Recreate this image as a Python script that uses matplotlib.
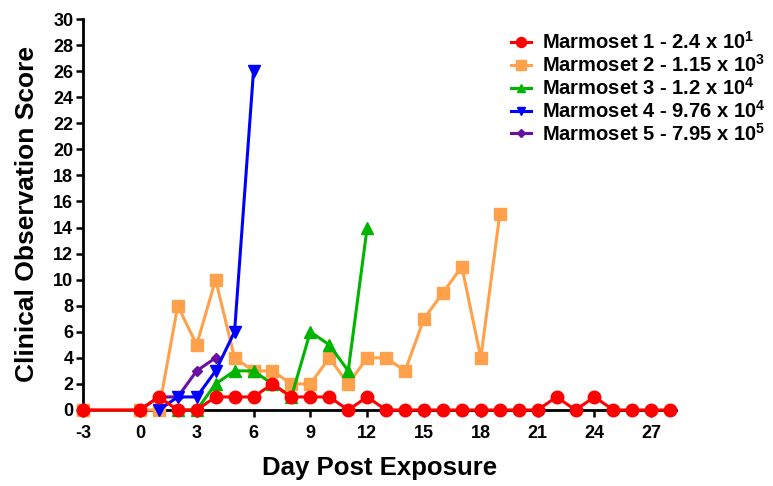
import matplotlib.pyplot as plt

plt.rcParams['font.family'] = ['Liberation Sans', 'DejaVu Sans']
plt.rcParams['font.weight'] = 'bold'
plt.rcParams['axes.unicode_minus'] = False
plt.rcParams['mathtext.fontset'] = 'custom'
plt.rcParams['mathtext.rm'] = 'Liberation Sans:bold'
plt.rcParams['mathtext.bf'] = 'Liberation Sans:bold'

# --- data ---
days_m1 = [-3, 0, 1, 2, 3, 4, 5, 6, 7, 8, 9, 10, 11, 12, 13, 14, 15, 16, 17, 18, 19, 20,
           21, 22, 23, 24, 25, 26, 27, 28]
score_m1 = [0, 0, 1, 0, 0, 1, 1, 1, 2, 1, 1, 1, 0, 1, 0, 0, 0, 0, 0, 0, 0, 0,
            0, 1, 0, 1, 0, 0, 0, 0]

days_m2 = [-3, 0, 1, 2, 3, 4, 5, 6, 7, 8, 9, 10, 11, 12, 13, 14, 15, 16, 17, 18, 19]
score_m2 = [0, 0, 0, 8, 5, 10, 4, 3, 3, 2, 2, 4, 2, 4, 4, 3, 7, 9, 11, 4, 15]

days_m3 = [2, 3, 4, 5, 6, 7, 8, 9, 10, 11, 12]
score_m3 = [0, 0, 2, 3, 3, 2, 1, 6, 5, 3, 14]

days_m4 = [1, 2, 3, 4, 5, 6]
score_m4 = [0, 1, 1, 3, 6, 26]

days_m5 = [0, 1, 2, 3, 4]
score_m5 = [0, 1, 1, 3, 4]

labels = [
    r"Marmoset 1 - 2.4 x 10$^{1}$",
    r"Marmoset 2 - 1.15 x 10$^{3}$",
    r"Marmoset 3 - 1.2 x 10$^{4}$",
    r"Marmoset 4 - 9.76 x 10$^{4}$",
    r"Marmoset 5 - 7.95 x 10$^{5}$",
]
colors = ['#ff0000', '#ffa04a', '#00b400', '#0000ff', '#6a0fa0']
markers = ['o', 's', '^', 'v', 'D']
msizes = [9, 9, 8, 8, 5.5]
zorders = [7, 3, 4, 6, 5]

series = [(days_m1, score_m1), (days_m2, score_m2), (days_m3, score_m3),
          (days_m4, score_m4), (days_m5, score_m5)]

fig = plt.figure(figsize=(7.73, 4.86), dpi=100)
ax = fig.add_axes([0.1074, 0.1564, 0.767, 0.8045])

for (x, y), lab, c, m, ms, z in zip(series, labels, colors, markers, msizes, zorders):
    ax.plot(x, y, color=c, marker=m, markersize=ms, linewidth=2.2, label=lab,
            zorder=z, clip_on=False)

ax.set_xlim(-3, 28.3)
ax.set_ylim(0, 30)
ax.set_xticks(range(-3, 28, 3))
ax.set_yticks(range(0, 31, 2))

for side in ['top', 'right']:
    ax.spines[side].set_visible(False)
for side in ['left', 'bottom']:
    ax.spines[side].set_linewidth(2)
ax.tick_params(axis='both', which='major', length=5, width=1.8, labelsize=13, direction='out')
ax.tick_params(axis='x', pad=6)
ax.tick_params(axis='y', pad=2)

ax.set_xlabel("Day Post Exposure", fontsize=18.5, fontweight='bold', labelpad=10)
ax.set_ylabel("Clinical Observation Score", fontsize=19, fontweight='bold', labelpad=10)

leg = ax.legend(loc='upper right', bbox_to_anchor=(1.165, 0.99), frameon=False,
                fontsize=14.5, handlelength=1.0, handletextpad=0.55, labelspacing=0.05,
                borderaxespad=0, markerscale=0.8)
for text in leg.get_texts():
    text.set_fontweight('bold')

fig.savefig("out.png", dpi=100)
